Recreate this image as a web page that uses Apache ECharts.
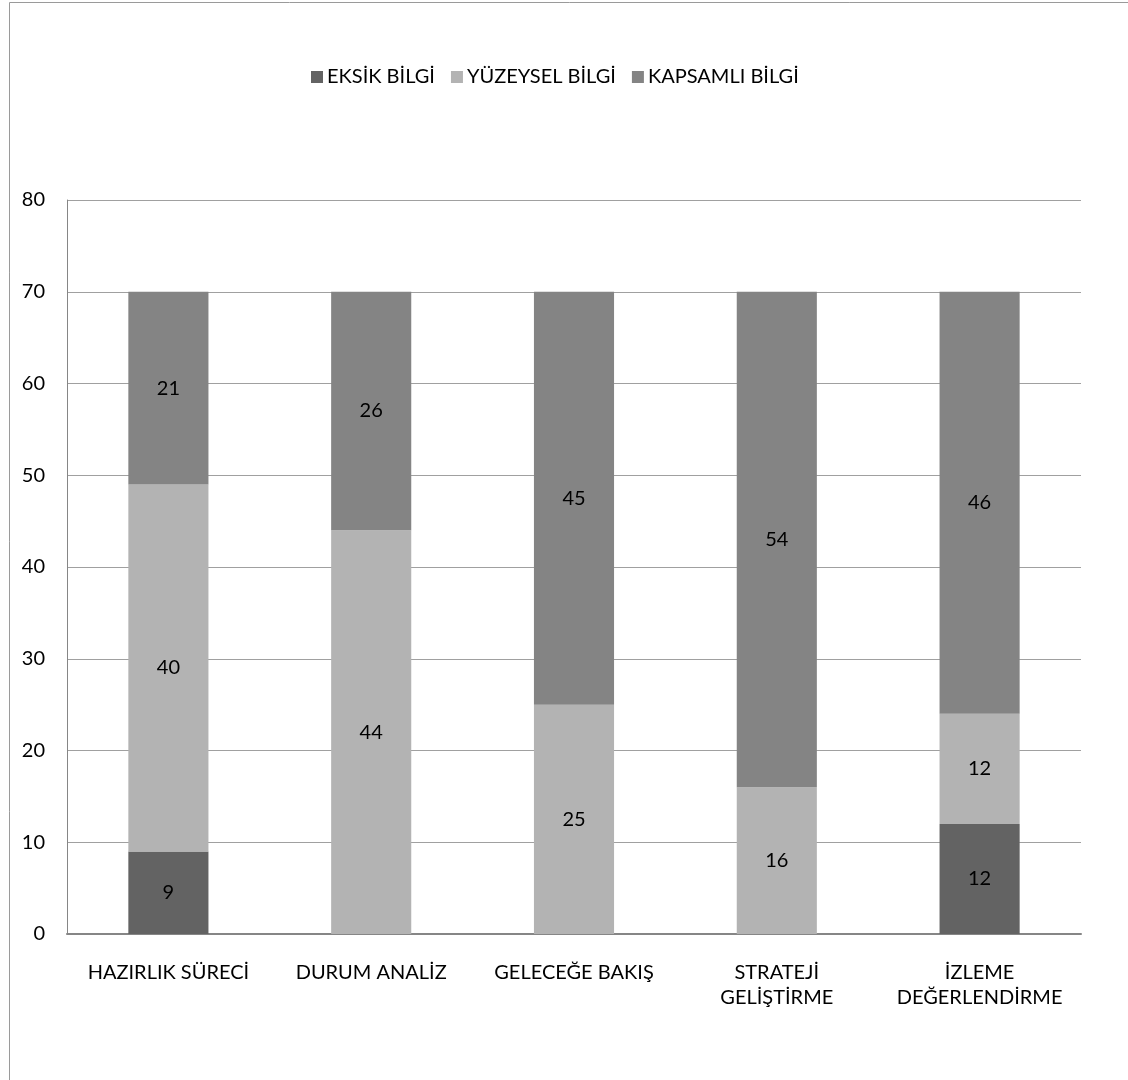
<!DOCTYPE html>
<html>
<head>
<meta charset="utf-8">
<script src="https://cdn.jsdelivr.net/npm/echarts@6/dist/echarts.min.js"></script>
<style>
  html, body { margin: 0; padding: 0; background: #ffffff; }
  #chart { width: 1128px; height: 1080px; }
</style>
</head>
<body>
<div id="chart"></div>
<script>
// Categories and stacked values per knowledge level
const categories = ['HAZIRLIK SÜRECİ', 'DURUM ANALİZ', 'GELECEĞE BAKIŞ', 'STRATEJİ\nGELİŞTİRME', 'İZLEME\nDEĞERLENDİRME'];
const eksikBilgi = [9, 0, 0, 0, 12];
const yuzeyselBilgi = [40, 44, 25, 16, 12];
const kapsamliBilgi = [21, 26, 45, 54, 46];
const seriesNames = ['EKSİK BİLGİ', 'YÜZEYSEL BİLGİ', 'KAPSAMLI BİLGİ'];

const FONT = 'Lato, "Open Sans", sans-serif';
const FS = 20;
const colors = ['#636363', '#b3b3b3', '#848484'];

const chart = echarts.init(document.getElementById('chart'), null, { renderer: 'canvas' });

function barSeries(name, data, color) {
  return {
    name: name,
    type: 'bar',
    stack: 'total',
    barWidth: '39.5%',
    data: data,
    itemStyle: { color: color },
    label: {
      show: true,
      position: 'inside',
      color: '#000000',
      fontFamily: FONT,
      fontSize: FS,
      formatter: p => (p.value ? String(p.value) : '')
    },
    emphasis: { disabled: true }
  };
}

chart.setOption({
  animation: false,
  backgroundColor: '#ffffff',
  color: colors,
  graphic: [{
    type: 'rect',
    shape: { x: 9.5, y: 2.5, width: 1200, height: 1200 },
    style: { fill: 'none', stroke: '#9a9a9a', lineWidth: 1 },
    silent: true
  }],
  legend: {
    top: 62,
    left: 306,
    itemWidth: 12,
    itemHeight: 12,
    itemGap: 16,
    icon: 'rect',
    data: seriesNames,
    textStyle: { fontFamily: FONT, fontSize: FS, color: '#000000', padding: [0, 0, 0, -1] }
  },
  grid: { left: 67, right: 47, top: 200, bottom: 146, containLabel: false },
  xAxis: {
    type: 'category',
    data: categories,
    axisLine: { show: true, lineStyle: { color: '#868686', width: 2 } },
    axisTick: { show: false },
    axisLabel: {
      interval: 0,
      margin: 26,
      color: '#000000',
      fontFamily: FONT,
      fontSize: FS,
      lineHeight: 25
    }
  },
  yAxis: {
    type: 'value',
    min: 0,
    max: 80,
    interval: 10,
    axisLine: { show: true, lineStyle: { color: '#868686', width: 1 } },
    axisTick: { show: false },
    splitLine: { show: true, lineStyle: { color: '#a0a0a0', width: 1 } },
    axisLabel: {
      margin: 22,
      color: '#000000',
      fontFamily: FONT,
      fontSize: FS
    }
  },
  series: [
    barSeries(seriesNames[0], eksikBilgi, colors[0]),
    barSeries(seriesNames[1], yuzeyselBilgi, colors[1]),
    barSeries(seriesNames[2], kapsamliBilgi, colors[2])
  ]
});
</script>
</body>
</html>
